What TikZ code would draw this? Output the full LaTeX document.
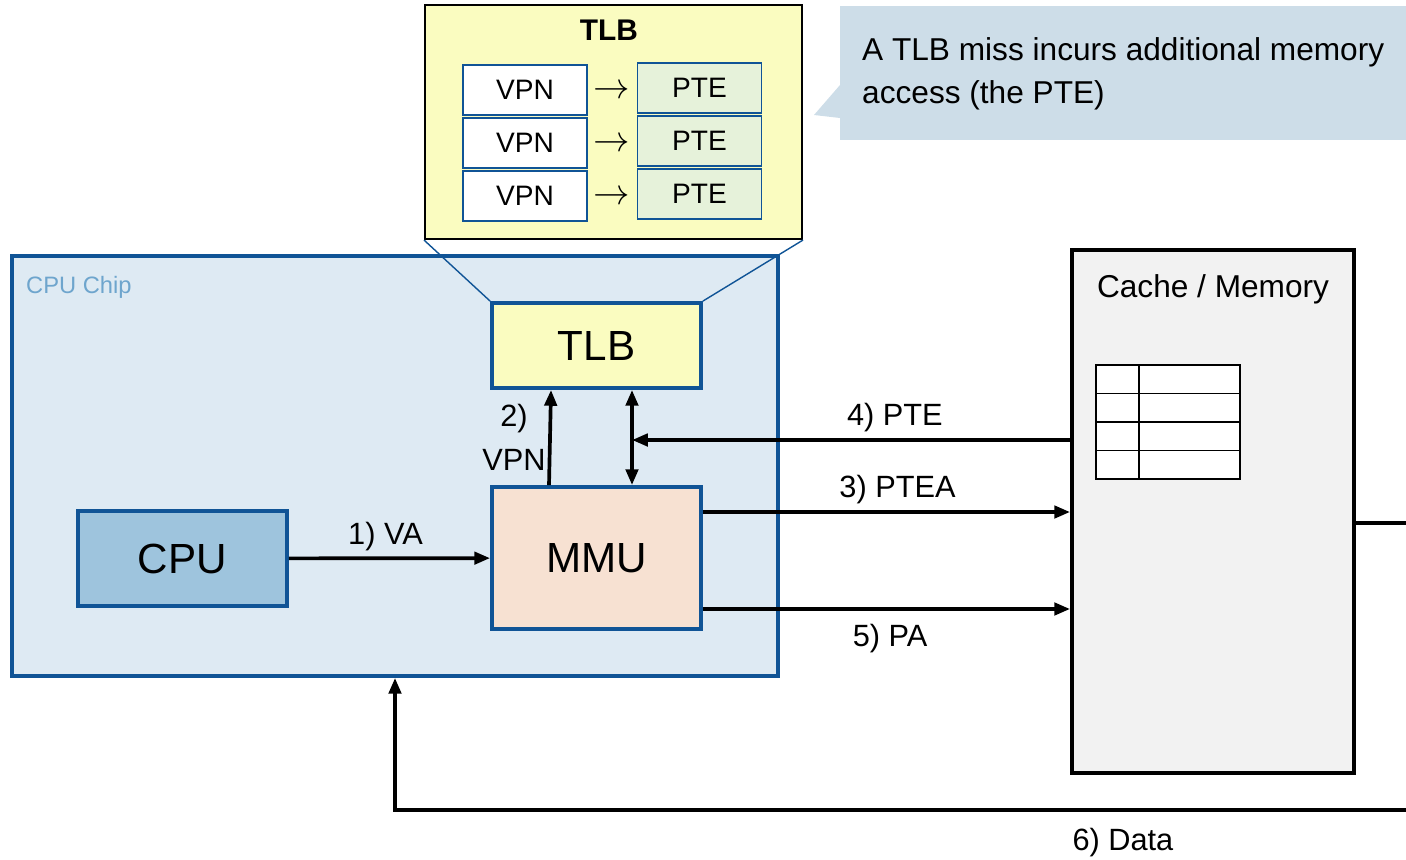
\documentclass[tikz,border=0pt]{standalone}
\usepackage{fontspec}
\setmainfont{Liberation Sans}
\usetikzlibrary{arrows.meta}

\definecolor{chipfill}{RGB}{222,234,243}
\definecolor{chipblue}{RGB}{16,84,150}
\definecolor{chiptext}{RGB}{110,165,205}
\definecolor{tlbfill}{RGB}{250,252,192}
\definecolor{mmufill}{RGB}{247,225,210}
\definecolor{cpufill}{RGB}{158,196,221}
\definecolor{memfill}{RGB}{242,242,242}
\definecolor{ptefill}{RGB}{230,242,218}
\definecolor{notefill}{RGB}{205,221,232}

\tikzset{
  unit/.style={draw=chipblue, line width=2.2pt, font=\fontsize{24}{28}\selectfont},
  entry/.style={draw=chipblue, line width=0.9pt, minimum width=2.48cm, minimum height=1cm, font=\fontsize{16}{19}\selectfont},
  lbl/.style={font=\fontsize{17.5}{21}\selectfont},
  arr/.style={line width=2.1pt, -{Triangle[length=9pt,width=7pt]}},
  arrboth/.style={line width=2.1pt, {Triangle[length=9pt,width=7pt]}-{Triangle[length=9pt,width=7pt]}},
}

\begin{document}
\begin{tikzpicture}[x=0.02cm, y=-0.02cm]
  \useasboundingbox (0,0) rectangle (1406,859);

  % CPU chip and its parts
  \node[draw=chipblue, fill=chipfill, line width=2.2pt, minimum width=15.32cm, minimum height=8.4cm] (chip) at (395,466) {};
  \node[anchor=west, text=chiptext, font=\fontsize{13.5}{16}\selectfont] (chiplbl) at (20,287) {CPU Chip};
  \node[unit, fill=tlbfill, minimum width=4.18cm, minimum height=1.7cm] (tlb) at (596.5,345.5) {TLB};
  \node[unit, fill=mmufill, minimum width=4.18cm, minimum height=2.84cm] (mmu) at (596.5,558) {MMU};
  \node[unit, fill=cpufill, minimum width=4.18cm, minimum height=1.9cm] (cpu) at (182.5,558.5) {CPU};

  % Cache / Memory
  \node[draw, fill=memfill, line width=2.2pt, minimum width=5.64cm, minimum height=10.46cm] (mem) at (1213,511.5) {};
  \node[font=\fontsize{18}{21}\selectfont] (memlbl) at (1213,289) {Cache / Memory};
  \draw[line width=1.1pt, fill=white] (1096,365) rectangle (1240,479);
  \foreach \y in {393.5,422,450.5}
    \draw[line width=1.1pt] (1096,\y) -- (1240,\y);
  \draw[line width=1.1pt] (1139,365) -- (1139,479);

  % zoomed TLB
  \node[draw, fill=tlbfill, line width=1.2pt, minimum width=7.54cm, minimum height=4.68cm] (bigtlb) at (613.5,122) {};
  \node[font=\fontsize{17}{20}\selectfont\bfseries] (bigtlbtitle) at (609,30) {TLB};
  \foreach \y/\i in {90/1,143/2,196/3} {
    \node[entry, fill=white] (vpn\i) at (525,\y) {VPN};
    \node[entry, fill=ptefill] (pte\i) at (699.5,\y-2) {PTE};
    \node[font=\fontsize{20}{22}\selectfont] (map\i) at (612,\y+2) {$\rightarrow$};
  }
  \draw[chipblue, line width=0.8pt] (bigtlb.south west) -- (tlb.north west);
  \draw[chipblue, line width=0.8pt] (bigtlb.south east) -- (tlb.north east);

  % callout
  \fill[notefill] (840,6) rectangle (1406,140);
  \fill[notefill] (840,85) -- (814,115) -- (840,118) -- cycle;
  \node[anchor=north west, align=left, font=\fontsize{18}{24.5}\selectfont] (note) at (856,31)
    {A TLB miss incurs additional memory\\access (the PTE)};

  % connectors
  \draw[arr] (cpu) -- (mmu) node[pos=0.48, above, lbl] {1) VA};
  \draw[arr] ([xshift=-0.95cm]mmu.north) -- ([xshift=-0.91cm]tlb.south);
  \node[lbl, align=center, font=\fontsize{17.5}{25}\selectfont] (vpnlbl) at (514,437) {2)\\VPN};
  \draw[arrboth] ([xshift=0.71cm]tlb.south) -- ([xshift=0.71cm]mmu.north);
  \coordinate (tap) at (632,440);
  \draw[arr] (tap -| mem.west) -- (tap) node[pos=0.4, above, lbl] {4) PTE};
  \draw[arr] ([yshift=0.92cm]mmu.east) -- ([yshift=0.92cm]mmu.east -| mem.west) node[pos=0.53, above, lbl] {3) PTEA};
  \draw[arr] ([yshift=-1.02cm]mmu.east) -- ([yshift=-1.02cm]mmu.east -| mem.west) node[pos=0.51, below=4pt, lbl] {5) PA};
  \coordinate (dataout) at (1406,523);
  \coordinate (datain) at (1406,810);
  \draw[line width=2.1pt] (dataout -| mem.east) -- (dataout);
  \draw[arr] (datain) -| (chip.south) node[pos=0.14, below=6pt, lbl] {6) Data};
\end{tikzpicture}
\end{document}
